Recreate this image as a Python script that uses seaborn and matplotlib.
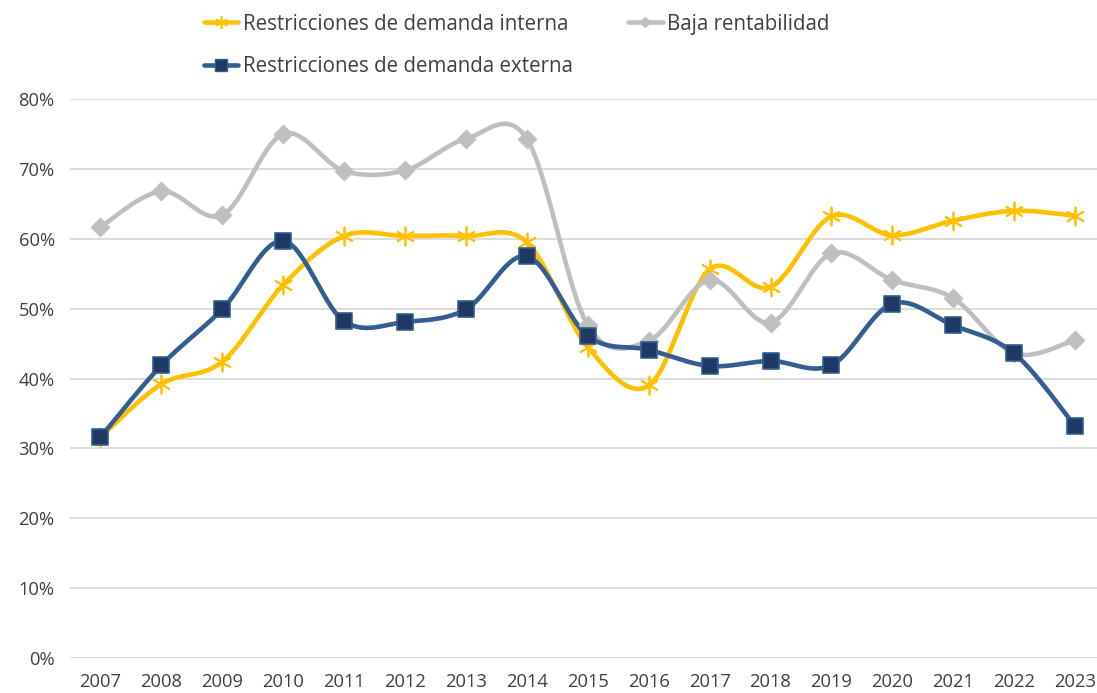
import numpy as np
import pandas as pd
import matplotlib
matplotlib.use("Agg")
import matplotlib.pyplot as plt
from matplotlib.lines import Line2D
from matplotlib.ticker import PercentFormatter
import seaborn as sns

years = ["2007", "2008", "2009", "2010", "2011", "2012", "2013", "2014", "2015",
         "2016", "2017", "2018", "2019", "2020", "2021", "2022", "2023"]
interna = [31.6, 39.2, 42.4, 53.4, 60.4, 60.4, 60.4, 59.5, 44.5,
           39.0, 55.6, 53.1, 63.2, 60.5, 62.6, 64.0, 63.3]
baja = [61.7, 66.8, 63.4, 75.0, 69.7, 69.8, 74.3, 74.3, 47.6,
        45.4, 54.1, 48.0, 57.9, 54.1, 51.5, 43.6, 45.5]
externa = [31.6, 41.9, 49.9, 59.7, 48.2, 48.1, 49.9, 57.5, 46.1,
           44.1, 41.8, 42.5, 41.9, 50.7, 47.6, 43.6, 33.2]

labels = ["Restricciones de demanda interna", "Baja rentabilidad",
          "Restricciones de demanda externa"]

sns.set_theme(style="white")
plt.rcParams["font.family"] = ["Open Sans", "DejaVu Sans"]

fig = plt.figure(figsize=(10.97, 6.93), dpi=100)
ax = fig.add_axes([70 / 1097, 35 / 693, 1027 / 1097, 559 / 693])


def smooth(xs, ys, n=30):
    """Excel-style Bezier smoothing (Catmull-Rom control points)."""
    P = np.column_stack([xs, ys]).astype(float)
    out = []
    for i in range(len(P) - 1):
        p0 = P[i - 1] if i > 0 else P[i]
        p1, p2 = P[i], P[i + 1]
        p3 = P[i + 2] if i + 2 < len(P) else P[i + 1]
        c1 = p1 + (p2 - p0) / 6.0
        c2 = p2 - (p3 - p1) / 6.0
        t = np.linspace(0, 1, n, endpoint=(i == len(P) - 2))[:, None]
        seg = ((1 - t) ** 3) * p1 + 3 * ((1 - t) ** 2) * t * c1 + 3 * (1 - t) * t ** 2 * c2 + t ** 3 * p2
        out.append(seg)
    out = np.vstack(out)
    return out[:, 0], out[:, 1]


x = np.arange(len(years))
series = [
    (interna, "#FFC000", dict(marker=(6, 2, 0), s=170, color="#FFC000", linewidths=1.3)),
    (baja, "#BFBFBF", dict(marker="D", s=90, color="#BFBFBF", edgecolor="#BFBFBF")),
    (externa, "#335E91", dict(marker="s", s=120, color="#1F3864", edgecolor="#335E91", linewidth=1.2)),
]
for idx in [1, 0, 2]:
    vals, col, mk = series[idx]
    sx, sy = smooth(x, np.array(vals) / 100.0)
    df = pd.DataFrame({"x": sx, "y": sy})
    sns.lineplot(data=df, x="x", y="y", ax=ax, color=col, linewidth=3.3,
                 estimator=None, sort=False, zorder=2 + idx)
    dfm = pd.DataFrame({"x": x, "y": np.array(vals) / 100.0})
    sns.scatterplot(data=dfm, x="x", y="y", ax=ax, zorder=5 + idx, **mk)

ax.set_xlim(-0.5, 16.36)
ax.set_ylim(0, 0.8)
ax.set_yticks(np.arange(0, 0.81, 0.1))
ax.yaxis.set_major_formatter(PercentFormatter(1.0, decimals=0))
ax.set_xticks(x)
ax.set_xticklabels(years)
ax.grid(axis="y", color="#D9D9D9", linewidth=1.3)
ax.grid(axis="x", visible=False)
for s in ax.spines.values():
    s.set_visible(False)
ax.tick_params(axis="both", length=0, labelsize=13.2, colors="#404040")
ax.tick_params(axis="y", pad=11)
ax.tick_params(axis="x", pad=11)
ax.set_xlabel("")
ax.set_ylabel("")

handles = [
    Line2D([], [], color="#FFC000", lw=3.3, marker=(6, 2, 0), markersize=9, markeredgewidth=1.2),
    Line2D([], [], color="#335E91", lw=3.3, marker="s", markersize=8,
           markerfacecolor="#1F3864", markeredgecolor="#335E91"),
    Line2D([], [], color="#BFBFBF", lw=3.3, marker="D", markersize=5),
]
fig.legend(handles, [labels[0], labels[2], labels[1]], ncol=2, loc="upper left",
           bbox_to_anchor=(185 / 1097, 1.007), frameon=False, fontsize=14.8,
           handlelength=1.7, handletextpad=0.2, columnspacing=2.7, labelspacing=1.05,
           labelcolor="#404040")

fig.savefig("out.png", dpi=100)
